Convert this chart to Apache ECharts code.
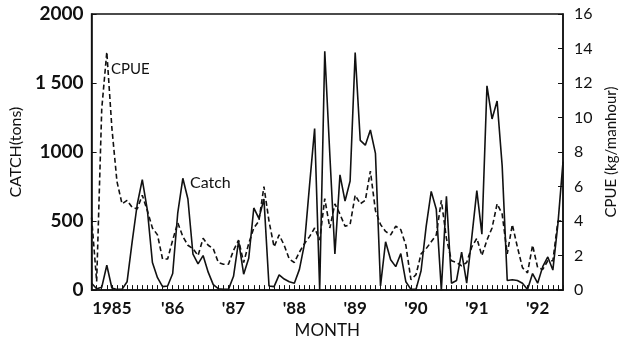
<!DOCTYPE html>
<html>
<head>
<meta charset="utf-8">
<script src="https://cdn.jsdelivr.net/npm/echarts@6/dist/echarts.min.js"></script>
<style>
html,body{margin:0;padding:0;background:#fff;}
#chart{width:627px;height:344px;}
</style>
</head>
<body>
<div id="chart"></div>
<script>
// Monthly series, Sep 1984 .. Jun 1992
const startYear = 1984, startMonth = 9, monthCount = 94;
const months = [];
for (let i = 0; i < monthCount; i++) {
  const t = startMonth - 1 + i;
  months.push((startYear + Math.floor(t / 12)) + '-' + String(t % 12 + 1).padStart(2, '0'));
}
const yearLabels = {
  '1985-01': '1985', '1986-01': "'86", '1987-01': "'87", '1988-01': "'88",
  '1989-01': "'89", '1990-01': "'90", '1991-01': "'91", '1992-01': "'92"
};
const catchTicks = { 0: '0', 500: '500', 1000: '1000', 1500: '1 500', 2000: '2000' };

// Catch (tons)
const catchTons = [
  50, 10, 20, 180, 15, 5, 5, 60, 350, 620, 800, 580, 200, 90, 25, 30,
  120, 560, 810, 660, 260, 190, 250, 130, 40, 10, 5, 5, 100, 355, 115, 230,
  595, 520, 660, 30, 25, 110, 80, 60, 50, 150, 335, 760, 1170, 0, 1730, 980,
  262, 835, 645, 790, 1720, 1085, 1050, 1160, 990, 30, 350, 220, 170, 265, 60, 5,
  5, 140, 460, 715, 585, 0, 680, 50, 70, 275, 50, 380, 720, 405, 1480, 1240,
  1370, 900, 70, 75, 70, 50, 5, 120, 50, 170, 240, 145, 480, 930
];
// CPUE (kg/manhour)
const cpue = [
  4.2, 0.5, 10.5, 13.8, 9.4, 6.3, 5.0, 5.2, 4.8, 4.7, 5.5, 4.6, 3.6, 3.2, 1.8, 1.8,
  2.9, 3.9, 3.1, 2.6, 2.4, 2.0, 3.0, 2.6, 2.4, 1.6, 1.5, 1.5, 2.3, 2.9, 1.6, 2.7,
  3.6, 4.0, 6.0, 4.0, 2.5, 3.2, 2.6, 1.8, 1.6, 2.2, 2.7, 3.1, 3.6, 2.9, 5.3, 3.6,
  5.0, 4.4, 3.7, 3.8, 5.5, 5.0, 5.2, 6.9, 4.6, 3.8, 3.4, 3.2, 3.7, 3.5, 2.6, 0.6,
  0.9, 2.1, 2.4, 2.8, 3.2, 5.2, 3.0, 1.7, 1.6, 1.4, 1.6, 2.5, 3.0, 2.0, 2.9, 3.6,
  5.0, 4.4, 2.1, 3.8, 2.5, 1.3, 1.0, 2.6, 1.3, 1.2, 1.7, 1.7, 4.0, 4.0
];

const FONT = 'Lato';
const ink = '#111';
const chart = echarts.init(document.getElementById('chart'), null, { renderer: 'canvas' });
chart.setOption({
  animation: false,
  backgroundColor: '#fff',
  textStyle: { fontFamily: FONT, color: ink },
  grid: { left: 90, right: 49, top: 14, bottom: 51, show: true, borderColor: ink, borderWidth: 1.5, backgroundColor: 'transparent' },
  xAxis: {
    type: 'category', data: months, boundaryGap: false,
    axisLine: { lineStyle: { color: ink, width: 1.5 } },
    axisTick: { inside: true, length: 5, interval: 0, lineStyle: { color: ink, width: 1 } },
    axisLabel: {
      interval: (i, v) => v in yearLabels,
      formatter: v => yearLabels[v] || '',
      color: ink, fontFamily: FONT, fontSize: 17, fontWeight: 'bold', margin: 10
    },
    name: 'MONTH', nameLocation: 'middle', nameGap: 31,
    nameTextStyle: { color: ink, fontFamily: FONT, fontSize: 17 }
  },
  yAxis: [
    {
      type: 'value', min: 0, max: 2000, interval: 500,
      axisLine: { show: true, lineStyle: { color: ink, width: 1.5 } },
      axisTick: { show: true, inside: true, length: 5, lineStyle: { color: ink } },
      splitLine: { show: false },
      axisLabel: { formatter: v => catchTicks[v], color: ink, fontFamily: FONT, fontSize: 19, fontWeight: 'bold', margin: 8 },
      name: 'CATCH(tons)', nameLocation: 'middle', nameGap: 66, nameRotate: 90,
      nameTextStyle: { color: ink, fontFamily: FONT, fontSize: 16 }
    },
    {
      type: 'value', min: 0, max: 16, interval: 2, position: 'right',
      axisLine: { show: true, lineStyle: { color: ink, width: 1.5 } },
      axisTick: { show: true, inside: true, length: 5, lineStyle: { color: ink } },
      splitLine: { show: false },
      axisLabel: { color: ink, fontFamily: FONT, fontSize: 16, margin: 11 },
      name: 'CPUE (kg/manhour)', nameLocation: 'middle', nameGap: 41, nameRotate: 90,
      nameTextStyle: { color: ink, fontFamily: FONT, fontSize: 15 }
    }
  ],
  series: [
    {
      name: 'Catch', type: 'line', data: catchTons, yAxisIndex: 0,
      symbol: 'none', lineStyle: { color: ink, width: 1.6 }, z: 3
    },
    {
      name: 'CPUE', type: 'line', data: cpue, yAxisIndex: 1,
      symbol: 'none', lineStyle: { color: ink, width: 1.6, type: [5, 3] }, z: 2
    }
  ],
  graphic: [
    { type: 'text', left: 111, top: 62, style: { text: 'CPUE', fontFamily: FONT, fontSize: 15, fill: ink } },
    { type: 'text', left: 190, top: 175, style: { text: 'Catch', fontFamily: FONT, fontSize: 16, fill: ink } }
  ]
});
</script>
</body>
</html>
